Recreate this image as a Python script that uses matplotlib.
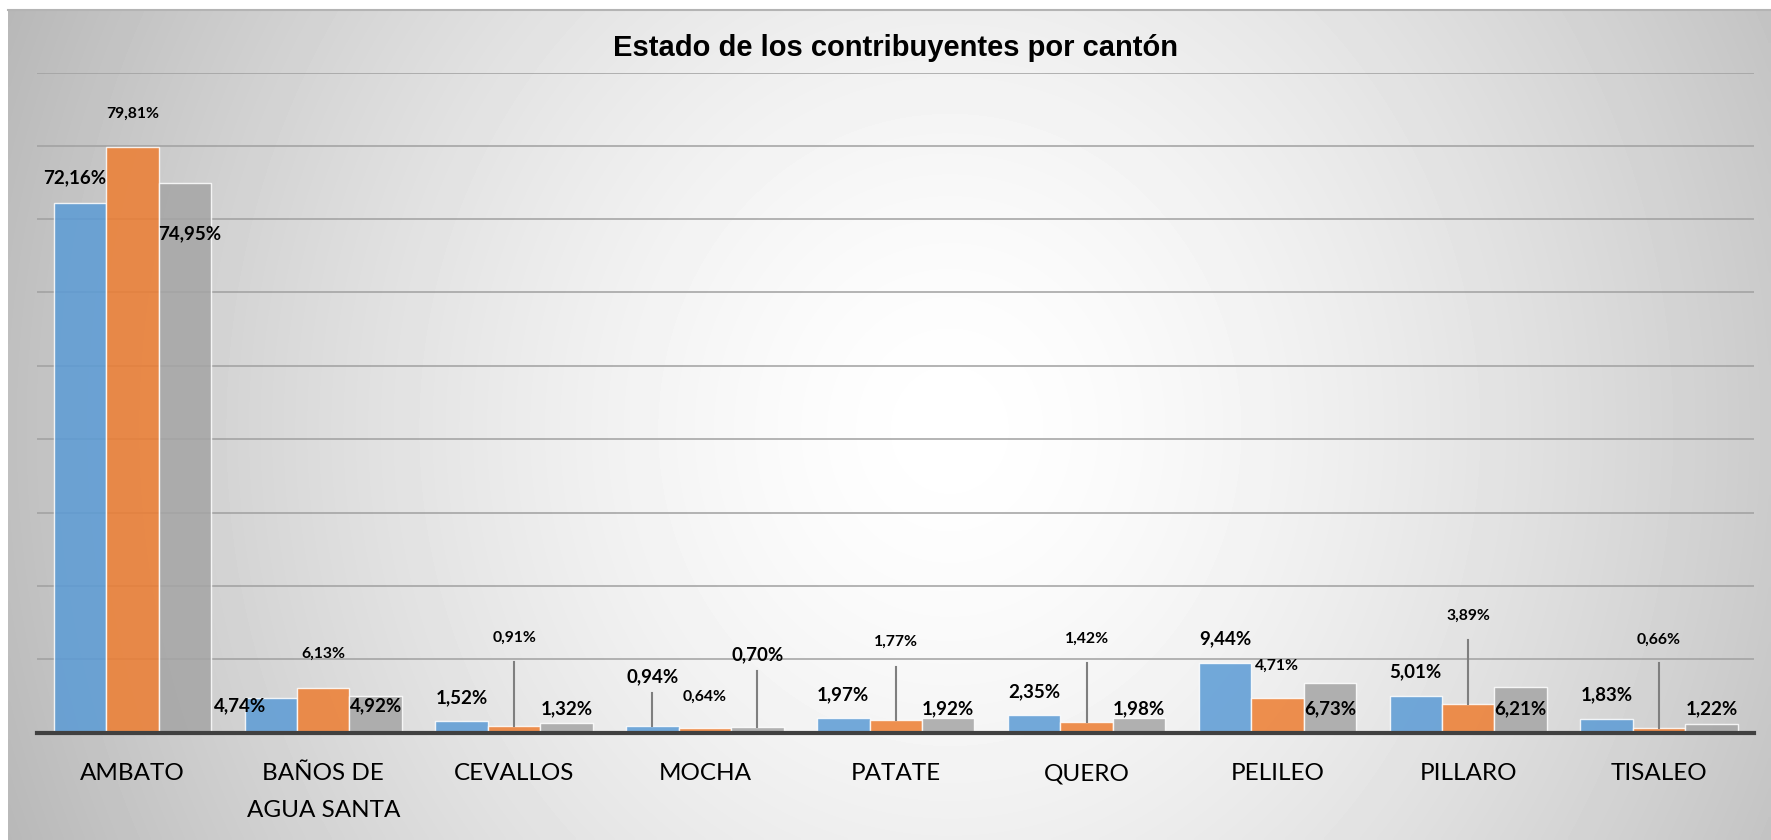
import matplotlib.pyplot as plt
import numpy as np

# Porcentaje de contribuyentes por cantón, tres estados
cantones = ['AMBATO', 'BAÑOS DE\nAGUA SANTA', 'CEVALLOS', 'MOCHA', 'PATATE',
            'QUERO', 'PELILEO', 'PILLARO', 'TISALEO']
serie_1 = [72.16, 4.74, 1.52, 0.94, 1.97, 2.35, 9.44, 5.01, 1.83]
serie_2 = [79.81, 6.13, 0.91, 0.64, 1.77, 1.42, 4.71, 3.89, 0.66]
serie_3 = [74.95, 4.92, 1.32, 0.70, 1.92, 1.98, 6.73, 6.21, 1.22]

# Ubicación de las etiquetas (altura en %, desplazamiento horizontal en px)
lab_y = [
    [75.7, 3.6, 4.7, 7.6, 5.2, 5.6, 12.85, 8.3, 5.1],
    [84.4, 10.7, 12.85, 4.9, 12.4, 12.75, 9.07, 15.9, 12.6],
    [68.0, 3.6, 3.2, 10.6, 3.3, 3.3, 3.3, 3.3, 3.3],
]
lab_dx = [
    [-5, -31, 0, 0, 0, 0, 0, 0, 0],
    [0, 0, 0, 0, 0, 0, 0, 0, 0],
    [5, 0, 0, 0, 0, 0, 0, 0, 0],
]
# Líneas guía: (serie, cantón, altura de inicio en %)
guias = [(1, 2, 9.66), (0, 3, 5.43), (2, 3, 8.4), (1, 4, 9.0),
         (1, 5, 9.44), (1, 7, 12.6), (1, 8, 9.44)]

colores = ['#5B9BD5', '#ED7D31', '#A5A5A5']
tam_etq = [13.5, 11.3, 13.5]

W, H = 1771, 840
fig = plt.figure(figsize=(W / 100, H / 100), dpi=100)

# fondo con degradado radial
bg = fig.add_axes([8 / W, 0, 1 - 8 / W, 1 - 10 / H])
gx, gy = np.meshgrid(np.linspace(8, W, 400), np.linspace(10, H, 200))
d = np.sqrt(((gx - 950) / 920) ** 2 + ((gy - 430) / 1000) ** 2)
tono = 1 - 0.24 * np.clip(d, 0, 1.15) ** 1.5
bg.imshow(tono, cmap='gray', vmin=0, vmax=1, aspect='auto',
          extent=[0, 1, 0, 1], interpolation='bilinear')
bg.plot([0, 1], [1, 1], color='#b4b4b4', lw=1.5, transform=bg.transAxes,
        clip_on=False)
bg.set_axis_off()

ax = fig.add_axes([37 / W, 1 - 732.5 / H, (1754.5 - 37) / W, 660 / H])
ax.patch.set_alpha(0)

x = np.arange(len(cantones))
ancho = 0.275
series = [serie_1, serie_2, serie_3]
for k, vals in enumerate(series):
    pos = x + (k - 1) * ancho
    ax.bar(pos, vals, width=ancho, color=colores[k], alpha=0.85,
           edgecolor='white', linewidth=1.0, zorder=2)
    for i, v in enumerate(vals):
        txt = f'{v:.2f}%'.replace('.', ',')
        ax.text(pos[i] + lab_dx[k][i] / 190.8, lab_y[k][i], txt,
                ha='center', va='center', fontsize=tam_etq[k],
                fontweight='bold', family='Lato', color='black', zorder=4)

for k, i, y0 in guias:
    xp = x[i] + (k - 1) * ancho
    ax.plot([xp, xp], [y0, series[k][i]], color='#7f7f7f', lw=1.5, zorder=3)

ax.set_ylim(0, 90)
ax.set_xlim(-0.5, len(cantones) - 0.5)
ax.set_yticks(np.arange(0, 91, 10))
ax.yaxis.grid(True, color='#a0a0a0', lw=1.1)
ax.set_axisbelow(True)
ax.tick_params(axis='y', length=0, labelleft=False)
ax.set_xticks(x)
ax.set_xticklabels(cantones, fontsize=17.5, family='Lato', linespacing=1.95)
ax.tick_params(axis='x', length=0, pad=22)
for s in ['top', 'right', 'left']:
    ax.spines[s].set_visible(False)
ax.spines['bottom'].set_color('#404040')
ax.spines['bottom'].set_linewidth(3)
ax.spines['bottom'].set_zorder(5)

fig.text(896 / W, 1 - 47.5 / H, 'Estado de los contribuyentes por cantón',
         ha='center', va='center', fontsize=21, fontweight='bold',
         family='Liberation Sans')

fig.savefig('out.png', dpi=100)
